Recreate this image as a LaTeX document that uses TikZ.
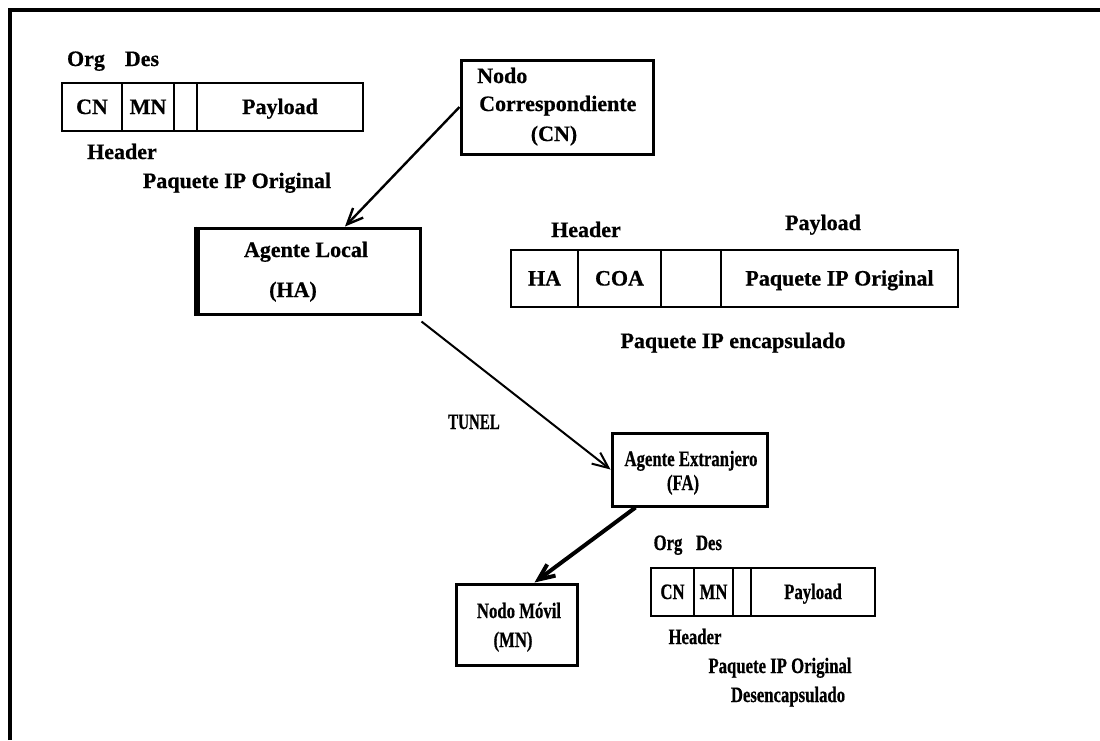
\documentclass[tikz,border=0pt]{standalone}
\usepackage{fontspec}
\setmainfont{Liberation Serif}[FakeBold=0.6]
\newfontfamily\cnd{Liberation Serif}[FakeStretch=0.76,FakeBold=0.6]
\newfontfamily\tnl{Liberation Serif}[FakeStretch=0.68,FakeBold=0.6]
\usetikzlibrary{arrows.meta}

\begin{document}
\begin{tikzpicture}[x=1pt,y=-1pt,
  every node/.style={font=\fontsize{22}{24}\selectfont\bfseries, inner sep=0pt},
  lbl/.style={anchor=base},
  nlbl/.style={anchor=base, font=\fontsize{22}{24}\selectfont\bfseries\cnd},
  boxn/.style={draw, line width=3pt, rectangle, inner sep=0pt},
  cell/.style={draw, line width=2.6pt, rectangle, text height=14pt, text depth=0pt,
               minimum height=48pt, inner sep=0pt},
  ccell/.style={cell, font=\fontsize{22}{24}\selectfont\bfseries\cnd},
  arr/.style={line width=2.2pt, -{Straight Barb[length=16pt,width=14pt]}}
]
\useasboundingbox (0,0) rectangle (1100,740);
\fill[white] (0,0) rectangle (1100,740);

% frame
\draw[line width=3.5pt] (10,740) -- (10,10) -- (1100,10);

% ---------- original packet (top left) ----------
\node[lbl] (o1) at (86,66) {Org};
\node[lbl] (d1) at (142,66) {Des};
\node[cell, minimum width=60pt] (p1a) at (92,107) {CN};
\node[cell, minimum width=52pt] (p1b) at (148,107) {MN};
\node[cell, minimum width=23pt] (p1c) at (185.5,107) {};
\node[cell, minimum width=166pt] (p1d) at (280,107) {Payload};
\node[lbl] (h1) at (122,159) {Header};
\node[lbl] (t1) at (237,188) {Paquete IP Original};

% ---------- corresponding node ----------
\node[boxn, minimum width=192pt, minimum height=94pt] (CN) at (557,107) {};
\node[lbl, anchor=base west] (cn1) at (477,83) {Nodo};
\node[lbl, anchor=base west] (cn2) at (479,111) {Correspondiente};
\node[lbl] (cn3) at (554,141) {(CN)};

% ---------- home agent ----------
\node[boxn, minimum width=222pt, minimum height=86pt] (HA) at (309,271) {};
\draw[line width=3pt] ([xshift=-1pt]HA.north west) -- ([xshift=-1pt,yshift=1pt]HA.south west)
      -- ([yshift=1pt]HA.south east);
\node[lbl] (ha1) at (306,257) {Agente Local};
\node[lbl] (ha2) at (293,297) {(HA)};

% ---------- encapsulated packet ----------
\node[lbl] (h2) at (586,237) {Header};
\node[lbl] (pl2) at (823,230) {Payload};
\node[cell, minimum width=67pt, minimum height=57pt] (p2a) at (544.5,278.5) {HA};
\node[cell, minimum width=83pt, minimum height=57pt] (p2b) at (619.5,278.5) {COA};
\node[cell, minimum width=60pt, minimum height=57pt] (p2c) at (691,278.5) {};
\node[cell, minimum width=237pt, minimum height=57pt] (p2d) at (839.5,278.5) {Paquete IP Original};
\node[lbl] (t2) at (733,348) {Paquete IP encapsulado};

% ---------- tunnel ----------
\node[lbl, font=\fontsize{22}{24}\selectfont\bfseries\tnl] (tun) at (474,429) {TUNEL};

% ---------- foreign agent ----------
\node[boxn, minimum width=155pt, minimum height=73pt] (FA) at (689.5,469.5) {};
\draw[line width=3pt] ([yshift=1.5pt]FA.south west) -- ([yshift=1.5pt]FA.south east);
\node[nlbl] (fa1) at (691,466) {Agente Extranjero};
\node[nlbl] (fa2) at (683,490) {(FA)};

% ---------- mobile node ----------
\node[boxn, minimum width=121pt, minimum height=81pt] (MN) at (516.5,624.5) {};
\node[nlbl] (mn1) at (519,618) {Nodo Móvil};
\node[nlbl] (mn2) at (513,647) {(MN)};

% ---------- decapsulated packet (bottom right) ----------
\node[nlbl] (o3) at (668,550) {Org};
\node[nlbl] (d3) at (709,550) {Des};
\node[ccell, minimum width=43pt] (p3a) at (672.5,592) {CN};
\node[ccell, minimum width=39pt] (p3b) at (713.5,592) {MN};
\node[ccell, minimum width=18pt] (p3c) at (742,592) {};
\node[ccell, minimum width=124pt] (p3d) at (813,592) {Payload};
\node[nlbl] (h3) at (695,644) {Header};
\node[nlbl] (t3) at (780,673) {Paquete IP Original};
\node[nlbl] (t4) at (788,702) {Desencapsulado};

% ---------- connectors ----------
\draw[arr, line width=2.4pt] (CN.west) -- ([xshift=36pt]HA.north);
\draw[arr, line width=2pt] ([yshift=-6pt]HA.south east) -- (FA.west);
\draw[arr, line width=4pt] ([xshift=-54pt]FA.south) -- ([xshift=18pt]MN.north);
\end{tikzpicture}
\end{document}
